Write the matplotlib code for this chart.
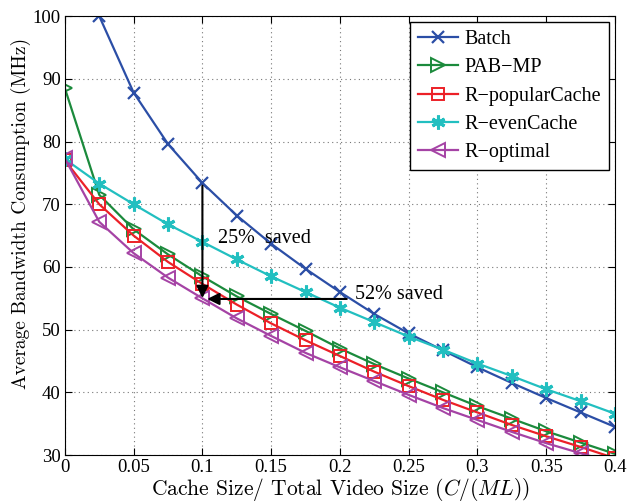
import numpy as np
import matplotlib
matplotlib.use('Agg')
import matplotlib.pyplot as plt

plt.rcParams['font.family'] = ['Liberation Serif', 'DejaVu Serif']
plt.rcParams['mathtext.fontset'] = 'cm'

# cache ratio values
x = [0, 0.025, 0.05, 0.075, 0.1, 0.125, 0.15, 0.175, 0.2, 0.225,
     0.25, 0.275, 0.3, 0.325, 0.35, 0.375, 0.4]

# bandwidth of each scheme (MHz), Batch has no point at 0
batch = [np.nan, 100, 87.8, 79.6, 73.4, 68.2, 63.7, 59.7, 56.0, 52.5,
         49.4, 46.7, 44.0, 41.5, 39.1, 36.8, 34.5]
pab_mp = [88.5, 71.5, 66.0, 62.0, 58.5, 55.3, 52.5, 49.8, 47.0, 44.5,
          42.2, 40.0, 37.8, 35.8, 33.8, 32.0, 30.2]
r_popular = [77.0, 70.0, 65.0, 60.8, 57.3, 54.0, 51.0, 48.3, 45.8, 43.3,
             41.0, 38.8, 36.8, 34.8, 33.0, 31.3, 29.5]
r_even = [77.2, 73.3, 70.0, 66.8, 64.0, 61.2, 58.5, 56.0, 53.5, 51.2,
          48.9, 46.8, 44.6, 42.6, 40.5, 38.6, 36.6]
r_optimal = [77.3, 67.2, 62.2, 58.3, 55.0, 51.8, 49.0, 46.3, 44.0, 41.8,
             39.6, 37.5, 35.6, 33.7, 31.9, 30.3, 28.7]

fig = plt.figure(figsize=(6.36, 5.04), dpi=100)
ax = fig.add_axes([0.102, 0.097, 0.865, 0.871])

ax.plot(x, batch, '-x', color='#2b4ea6', lw=1.6, ms=8, mew=1.6, label='Batch')
ax.plot(x, pab_mp, '->', color='#1b8a3c', lw=1.6, ms=10, mew=1.4, mfc='none', label='PAB\u2212MP')
ax.plot(x, r_popular, '-s', color='#ec2027', lw=1.6, ms=8, mew=1.4, mfc='none', label='R\u2212popularCache')
ax.plot(x, r_even, '-', marker=(6, 2, 0), color='#22bfc0', lw=1.6, ms=10, mew=2.2, label='R\u2212evenCache')
ax.plot(x, r_optimal, '-<', color='#a543a5', lw=1.6, ms=10, mew=1.4, mfc='none', label='R\u2212optimal')

# saving arrows
ax.annotate('', xy=(0.1, 54.6), xytext=(0.1, 73.4),
            arrowprops=dict(arrowstyle='-|>', color='black', lw=1.5, mutation_scale=18))
ax.annotate('', xy=(0.1015, 54.9), xytext=(0.207, 54.9),
            arrowprops=dict(arrowstyle='-|>', color='black', lw=1.5, mutation_scale=18))
ax.text(0.111, 64.6, '25%  saved', fontsize=14.5, va='center')
ax.text(0.211, 55.6, '52% saved', fontsize=14.5, va='center')

ax.set_xlim(0, 0.4)
ax.set_ylim(30, 100)
ax.set_xticks([0, 0.05, 0.1, 0.15, 0.2, 0.25, 0.3, 0.35, 0.4])
ax.set_xticklabels(['0', '0.05', '0.1', '0.15', '0.2', '0.25', '0.3', '0.35', '0.4'])
ax.set_yticks(range(30, 101, 10))
ax.tick_params(direction='in', top=True, right=True, labelsize=13.5, length=5, pad=3)
ax.grid(True, linestyle=(0, (1, 3)), color='#777777', lw=0.8)
ax.set_xlabel('Cache Size/ Total Video Size $(C/(ML))$', fontsize=15.5, labelpad=0,
              family='cmr10')
ax.set_ylabel('Average Bandwidth Consumption (MHz)', fontsize=14, labelpad=2,
              family='cmr10')
ax.yaxis.set_label_coords(-0.062, 0.55)

leg = ax.legend(loc='upper right', fontsize=14.5, fancybox=False, edgecolor='black',
                framealpha=1, handlelength=2.0, handletextpad=0.3, borderaxespad=0.3,
                labelspacing=0.45, borderpad=0.4)
leg.get_frame().set_linewidth(1.0)

fig.savefig('out.png', dpi=100)
